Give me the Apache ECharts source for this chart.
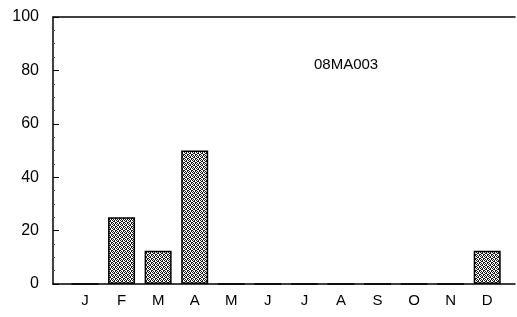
<!DOCTYPE html>
<html>
<head>
<meta charset="utf-8">
<script src="https://cdn.jsdelivr.net/npm/echarts@6/dist/echarts.min.js"></script>
<style>
  html, body { margin: 0; padding: 0; background: #fff; }
  #chart { width: 517px; height: 317px; }
</style>
</head>
<body>
<div id="chart"></div>
<script>
var months = ["J", "F", "M", "A", "M", "J", "J", "A", "S", "O", "N", "D"];
var percent = [0, 25, 12.5, 50, 0, 0, 0, 0, 0, 0, 0, 12.5];
var yTicks = [0, 20, 40, 60, 80, 100];
var stationName = "08MA003";

// stippled fill like the scanned bars
function makePattern() {
  var c = document.createElement("canvas");
  c.width = 4;
  c.height = 4;
  var ctx = c.getContext("2d");
  ctx.fillStyle = "#fff";
  ctx.fillRect(0, 0, 4, 4);
  ctx.fillStyle = "#1a1a1a";
  ctx.fillRect(0, 0, 1, 1);
  ctx.fillRect(2, 0, 1, 1);
  ctx.fillRect(1, 1, 2, 1);
  ctx.fillRect(0, 2, 1, 1);
  ctx.fillRect(3, 2, 1, 1);
  ctx.fillRect(1, 3, 1, 1);
  ctx.fillRect(3, 3, 1, 1);
  return c;
}

var barData = percent.map(function(v, i) {
  return [i, v];
});

var chart = echarts.init(document.getElementById("chart"));
chart.setOption({
  animation: false,
  grid: { left: 53, right: 2, top: 17, bottom: 33 },
  title: {
    text: stationName,
    left: 309,
    top: 52,
    textStyle: { fontFamily: "Liberation Sans", fontSize: 15, fontWeight: "normal", color: "#000" }
  },
  xAxis: [
    {
      type: "value",
      min: -0.875,
      max: 11.76,
      splitLine: { show: false },
      axisLine: { show: true, onZero: false, lineStyle: { color: "#000", width: 1.5 } },
      axisTick: { show: false },
      axisLabel: {
        customValues: months.map(function(m, i) { return i; }),
        formatter: function(v) { return months[Math.round(v)]; },
        color: "#000",
        fontFamily: "Liberation Sans",
        fontSize: 15,
        margin: 9
      }
    },
    {
      type: "value",
      position: "top",
      min: -0.875,
      max: 11.76,
      splitLine: { show: false },
      axisLine: { show: true, onZero: false, lineStyle: { color: "#000", width: 1.5 } },
      axisTick: { show: false },
      axisLabel: { show: false }
    }
  ],
  yAxis: {
    type: "value",
    min: 0,
    max: 100,
    interval: 20,
    splitLine: { show: false },
    axisLine: { show: true, onZero: false, lineStyle: { color: "#000", width: 1.5 } },
    axisTick: { show: true, inside: true, length: 6, lineStyle: { color: "#000" } },
    minorTick: { show: true, splitNumber: 4, length: 2, lineStyle: { color: "#555" } },
    axisLabel: {
      customValues: yTicks,
      color: "#000",
      fontFamily: "Liberation Sans",
      fontSize: 16,
      margin: 14
    }
  },
  series: [
    {
      type: "bar",
      data: barData,
      barWidth: 27,
      itemStyle: {
        color: { image: makePattern(), repeat: "repeat" },
        borderColor: "#000",
        borderWidth: 1.5
      }
    }
  ]
});
</script>
</body>
</html>
